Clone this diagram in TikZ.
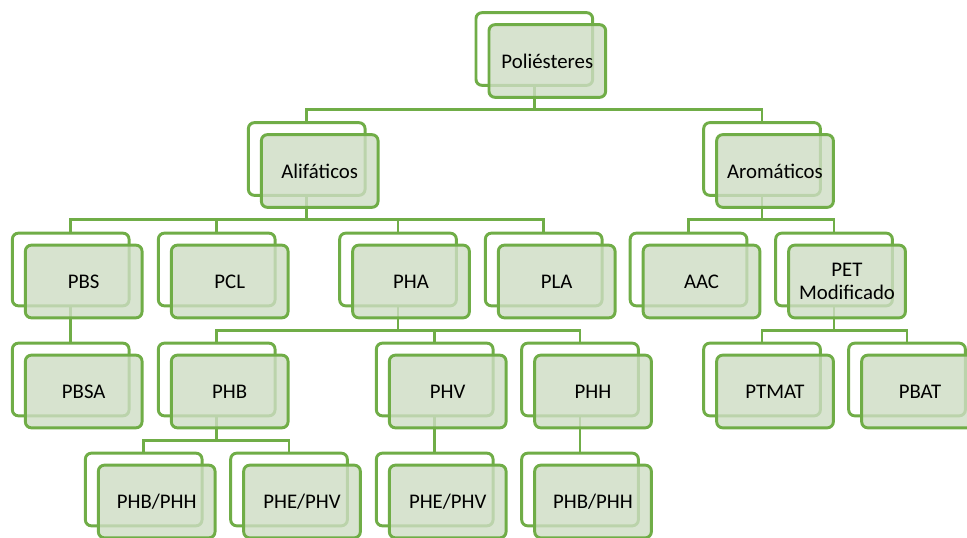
\documentclass[tikz,border=0pt]{standalone}
\usepackage{fontspec}
\setmainfont{Carlito}
\usetikzlibrary{backgrounds}
\definecolor{leaf}{RGB}{112,173,71}
\definecolor{leaffill}{RGB}{206,221,196}
\tikzset{back/.style={draw=leaf,fill=white,line width=2.2pt,rounded corners=4.5pt,minimum width=87.5pt,minimum height=54.5pt},
front/.style={back,fill=leaffill,fill opacity=0.8,text opacity=1,align=center,font=\fontsize{15.6pt}{17pt}\selectfont},
link/.style={draw=leaf,line width=2.2pt}}
\begin{document}
\begin{tikzpicture}[x=0.75pt,y=-0.75pt]
\useasboundingbox (0,0) rectangle (967,538);
\clip (0,0) rectangle (967,538);

\node[back] (r) at (534.3,49) {};
\node[front] (rf) at ([shift={(13,12)}]r) {Poliésteres};

\node[back] (c1) at (306.7,159) {};
\node[front] (c1f) at ([shift={(13,12)}]c1) {Alifáticos};
\node[back] (c2) at (762,159) {};
\node[front] (c2f) at ([shift={(13,12)}]c2) {Aromáticos};

\node[back] (c11) at (70.7,269.5) {};
\node[front] (c11f) at ([shift={(13,12)}]c11) {PBS};
\node[back] (c12) at (216.7,269.5) {};
\node[front] (c12f) at ([shift={(13,12)}]c12) {PCL};
\node[back] (c13) at (398,269.5) {};
\node[front] (c13f) at ([shift={(13,12)}]c13) {PHA};
\node[back] (c14) at (543.7,269.5) {};
\node[front] (c14f) at ([shift={(13,12)}]c14) {PLA};
\node[back] (c21) at (688.5,269.5) {};
\node[front] (c21f) at ([shift={(13,12)}]c21) {AAC};
\node[back] (c22) at (834,269.5) {};
\node[front] (c22f) at ([shift={(13,12)}]c22) {PET\\Modificado};

\node[back] (c111) at (70.7,379.5) {};
\node[front] (c111f) at ([shift={(13,12)}]c111) {PBSA};
\node[back] (c131) at (216.7,379.5) {};
\node[front] (c131f) at ([shift={(13,12)}]c131) {PHB};
\node[back] (c132) at (434.7,379.5) {};
\node[front] (c132f) at ([shift={(13,12)}]c132) {PHV};
\node[back] (c133) at (580,379.5) {};
\node[front] (c133f) at ([shift={(13,12)}]c133) {PHH};
\node[back] (c221) at (762,379.5) {};
\node[front] (c221f) at ([shift={(13,12)}]c221) {PTMAT};
\node[back] (c222) at (907,379.5) {};
\node[front] (c222f) at ([shift={(13,12)}]c222) {PBAT};

\node[back] (c1311) at (143.7,489.5) {};
\node[front] (c1311f) at ([shift={(13,12)}]c1311) {PHB/PHH};
\node[back] (c1312) at (289,489.5) {};
\node[front] (c1312f) at ([shift={(13,12)}]c1312) {PHE/PHV};
\node[back] (c1321) at (434.7,489.5) {};
\node[front] (c1321f) at ([shift={(13,12)}]c1321) {PHE/PHV};
\node[back] (c1331) at (580,489.5) {};
\node[front] (c1331f) at ([shift={(13,12)}]c1331) {PHB/PHH};

\begin{scope}[on background layer]
\draw[link] (r.south) -- ++(0,23) -| (c1.north);
\draw[link] (r.south) -- ++(0,23) -| (c2.north);
\draw[link] (c1.south) -- ++(0,23) -| (c11.north);
\draw[link] (c1.south) -- ++(0,23) -| (c12.north);
\draw[link] (c1.south) -- ++(0,23) -| (c13.north);
\draw[link] (c1.south) -- ++(0,23) -| (c14.north);
\draw[link] (c2.south) -- ++(0,23) -| (c21.north);
\draw[link] (c2.south) -- ++(0,23) -| (c22.north);
\draw[link] (c11.south) -- (c111.north);
\draw[link] (c13.south) -- ++(0,23) -| (c131.north);
\draw[link] (c13.south) -- ++(0,23) -| (c132.north);
\draw[link] (c13.south) -- ++(0,23) -| (c133.north);
\draw[link] (c22.south) -- ++(0,23) -| (c221.north);
\draw[link] (c22.south) -- ++(0,23) -| (c222.north);
\draw[link] (c131.south) -- ++(0,23) -| (c1311.north);
\draw[link] (c131.south) -- ++(0,23) -| (c1312.north);
\draw[link] (c132.south) -- (c1321.north);
\draw[link] (c133.south) -- (c1331.north);
\end{scope}
\end{tikzpicture}
\end{document}
